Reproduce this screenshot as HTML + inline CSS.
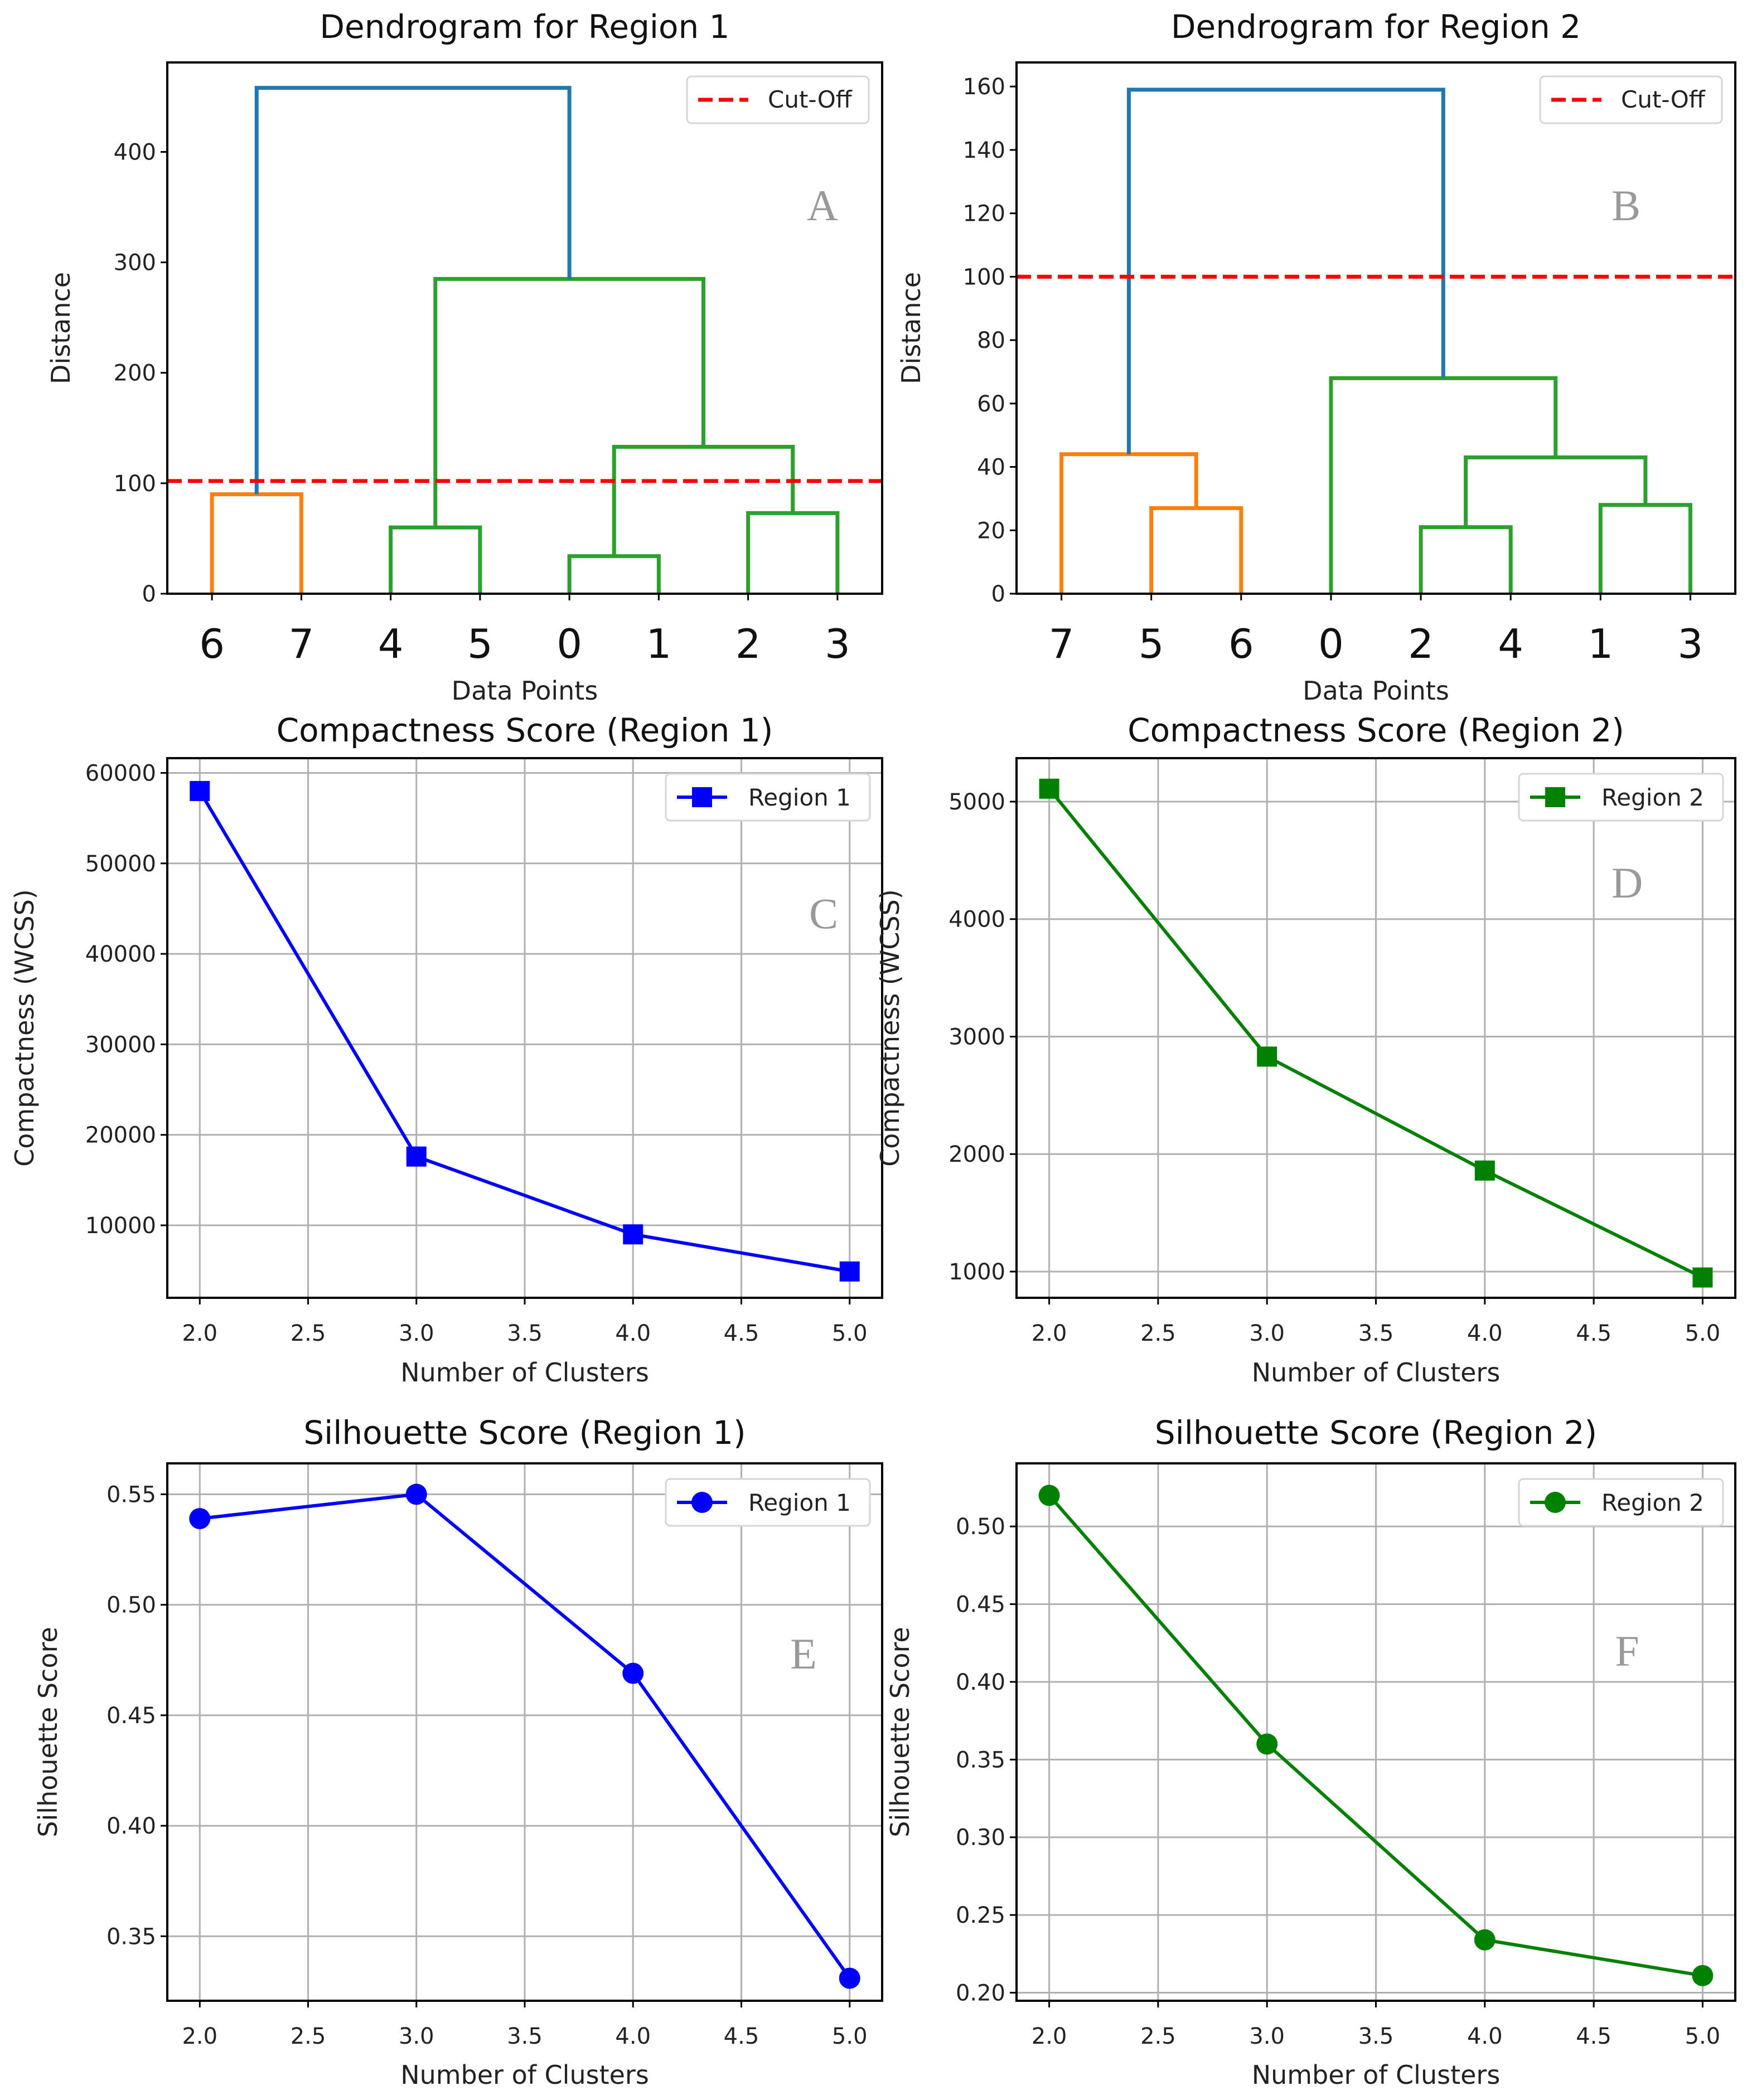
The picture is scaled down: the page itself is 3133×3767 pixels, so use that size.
<!DOCTYPE html>
<html><head><meta charset="utf-8"><style>
html,body{margin:0;padding:0;background:#fff}
svg{display:block;font-family:"DejaVu Sans","Liberation Sans",sans-serif}
</style></head><body>
<svg id="fig" width="3133" height="3767" viewBox="0 0 3133 3767" xmlns="http://www.w3.org/2000/svg"></svg>
<script>
// ---- Data ----
const dendroALeaves = ["6","7","4","5","0","1","2","3"];
const dendroALeftX = [5,25,45,65,50,30,10];
const dendroARightX = [15,35,55,75,70,60,45];
const dendroALeftY = [0,0,0,0,34,60,90];
const dendroARightY = [0,0,0,0,73,133,285];
const dendroATop = [90,60,34,73,133,285,458];
const dendroAColor = ["#ff7f0e","#2ca02c","#2ca02c","#2ca02c","#2ca02c","#2ca02c","#1f77b4"];
const dendroATicks = [0,100,200,300,400];
const cutoffA = 102;

const dendroBLeaves = ["7","5","6","0","2","4","1","3"];
const dendroBLeftX = [15,5,45,65,50,35,12.5];
const dendroBRightX = [25,20,55,75,70,60,47.5];
const dendroBLeftY = [0,0,0,0,21,0,44];
const dendroBRightY = [0,27,0,0,28,43,68];
const dendroBTop = [27,44,21,28,43,68,159];
const dendroBColor = ["#ff7f0e","#ff7f0e","#2ca02c","#2ca02c","#2ca02c","#2ca02c","#1f77b4"];
const dendroBTicks = [0,20,40,60,80,100,120,140,160];
const cutoffB = 100;

const clusters = [2,3,4,5];
const xTicks = [2.0,2.5,3.0,3.5,4.0,4.5,5.0];
const wcss1 = [58000,17600,9000,4900];
const wcss2 = [5110,2830,1860,950];
const sil1 = [0.539,0.550,0.469,0.331];
const sil2 = [0.520,0.360,0.234,0.211];
const wcss1Ticks = [10000,20000,30000,40000,50000,60000];
const wcss2Ticks = [1000,2000,3000,4000,5000];
const sil1Ticks = [0.35,0.40,0.45,0.50,0.55];
const sil2Ticks = [0.20,0.25,0.30,0.35,0.40,0.45,0.50];

const NS="http://www.w3.org/2000/svg";
const fig=document.getElementById('fig');
function mk(tag,attrs,parent){const e=document.createElementNS(NS,tag);for(const k in attrs)e.setAttribute(k,attrs[k]);(parent||fig).appendChild(e);return e;}
function txt(s,attrs,parent){const e=mk('text',attrs,parent);e.textContent=s;return e;}

function axesFrame(g,x0,x1,y0,y1){
  const r=mk('rect',{x:x0,y:y0,width:x1-x0,height:y1-y0,fill:'none',stroke:'#000','stroke-width':4},g);
  
  
}
function yTicksDraw(g,ticks,sy,x0,x1,fmt,grid){
  ticks.forEach(t=>{
    const y=sy(t);
    if(grid){const gl=mk('line',{x1:x0,x2:x1,y1:y,y2:y,stroke:'#b0b0b0','stroke-width':3},g);
      
      }
    const tk=mk('line',{x1:x0-12,x2:x0,y1:y,y2:y,stroke:'#000','stroke-width':3},g);
    
    
    const l=txt(fmt(t),{x:x0-20,y:y+14,'text-anchor':'end','font-size':40,fill:'#222'},g);
    
    
  });
}
function title(g,s,cx,y){const t=txt(s,{x:cx,y:y,'text-anchor':'middle','font-size':58,fill:'#111'},g);
  
  }
function xlabel(g,s,cx,y){const t=txt(s,{x:cx,y:y,'text-anchor':'middle','font-size':46,fill:'#222'},g);
  
  }
function ylabel(g,s,x,cy){const t=txt(s,{x:x,y:cy,'text-anchor':'middle','font-size':46,fill:'#222',transform:`rotate(-90 ${x} ${cy})`},g);
  
  }
function letter(g,s,x,y){const t=txt(s,{x:x,y:y,'text-anchor':'middle','font-size':78,fill:'#999','font-family':'"Liberation Serif",serif'},g);
  
  }

function dendro(name,x0,x1,y0,y1,ymax,leaves,LX,RX,LY,RY,TOP,COL,ticks,cut,ttl,lx,let_,letX,letY){
  const g=mk('g',{});
  
  
  const sx=v=>x0+(v/80)*(x1-x0);
  const sy=v=>y1-(v/ymax)*(y1-y0);
  for(let i=0;i<TOP.length;i++){
    const p=mk('polyline',{points:`${sx(LX[i])},${sy(LY[i])} ${sx(LX[i])},${sy(TOP[i])} ${sx(RX[i])},${sy(TOP[i])} ${sx(RX[i])},${sy(RY[i])}`,fill:'none',stroke:COL[i],'stroke-width':7},g);
    
    
  }
  const c=mk('line',{x1:x0,x2:x1,y1:sy(cut),y2:sy(cut),stroke:'#ff0000','stroke-width':7,'stroke-dasharray':'26 11'},g);
  
  
  axesFrame(g,x0,x1,y0,y1);
  yTicksDraw(g,ticks,sy,x0,x1,t=>String(t),false);
  leaves.forEach((s,i)=>{
    const x=sx(5+10*i);
    const tk=mk('line',{x1:x,x2:x,y1:y1,y2:y1+12,stroke:'#000','stroke-width':3},g);
    
    
    const l=txt(s,{x:x,y:y1+115,'text-anchor':'middle','font-size':72,fill:'#111'},g);
    
    
  });
  title(g,ttl,(x0+x1)/2,68);
  xlabel(g,'Data Points',(x0+x1)/2,1255);
  ylabel(g,'Distance',lx,(y0+y1)/2);
  letter(g,let_,letX,letY);
  const lg=mk('g',{},g);
  
  
  const lxx=x1-350;
  mk('rect',{x:lxx,y:y0+25,width:326,height:84,rx:8,fill:'#fff',stroke:'#d6d6d6','stroke-width':3},lg);
  const ll=mk('line',{x1:lxx+20,x2:lxx+110,y1:y0+67,y2:y0+67,stroke:'#ff0000','stroke-width':7,'stroke-dasharray':'26 11'},lg);
  
  
  const lt=txt('Cut-Off',{x:lxx+145,y:y0+81,'font-size':42,fill:'#222'},lg);
  
  
}

function linePlot(name,x0,x1,y0,y1,ymin,ymax,vals,ticks,fmt,color,marker,ttl,titleY,xlY,xlabY,yl,ylx,lbl,let_,letX,letY){
  const g=mk('g',{});
  
  
  const sx=v=>x0+((v-1.85)/3.3)*(x1-x0);
  const sy=v=>y1-((v-ymin)/(ymax-ymin))*(y1-y0);
  xTicks.forEach(t=>{
    const x=sx(t);
    const gl=mk('line',{x1:x,x2:x,y1:y0,y2:y1,stroke:'#b0b0b0','stroke-width':3},g);
    
    
    const tk=mk('line',{x1:x,x2:x,y1:y1,y2:y1+12,stroke:'#000','stroke-width':3},g);
    
    
    const l=txt(t.toFixed(1),{x:x,y:xlY,'text-anchor':'middle','font-size':40,fill:'#222'},g);
    
    
  });
  yTicksDraw(g,ticks,sy,x0,x1,fmt,true);
  const pts=clusters.map((c,i)=>`${sx(c)},${sy(vals[i])}`).join(' ');
  const pl=mk('polyline',{points:pts,fill:'none',stroke:color,'stroke-width':6},g);
  
  
  clusters.forEach((c,i)=>{
    let m;
    if(marker==='s') m=mk('rect',{x:sx(c)-18,y:sy(vals[i])-18,width:36,height:36,fill:color},g);
    else m=mk('circle',{cx:sx(c),cy:sy(vals[i]),r:19,fill:color},g);
    
    
  });
  axesFrame(g,x0,x1,y0,y1);
  title(g,ttl,(x0+x1)/2,titleY);
  xlabel(g,'Number of Clusters',(x0+x1)/2,xlabY);
  ylabel(g,yl,ylx,(y0+y1)/2);
  letter(g,let_,letX,letY);
  const lg=mk('g',{},g);
  
  
  const lxx=x1-388;
  mk('rect',{x:lxx,y:y0+28,width:366,height:84,rx:8,fill:'#fff',stroke:'#d6d6d6','stroke-width':3},lg);
  const ll=mk('line',{x1:lxx+20,x2:lxx+110,y1:y0+70,y2:y0+70,stroke:color,'stroke-width':6},lg);
  
  
  let mm;
  if(marker==='s') mm=mk('rect',{x:lxx+47,y:y0+52,width:36,height:36,fill:color},lg);
  else mm=mk('circle',{cx:lxx+65,cy:y0+70,r:19,fill:color},lg);
  
  
  const lt=txt(lbl,{x:lxx+148,y:y0+85,'font-size':42,fill:'#222'},lg);
  
  
}

const C1=[300,1582], C2=[1823,3112];
dendro('dendrogram-region-1',C1[0],C1[1],112,1065,481,dendroALeaves,dendroALeftX,dendroARightX,dendroALeftY,dendroARightY,dendroATop,dendroAColor,dendroATicks,cutoffA,'Dendrogram for Region 1',125,'A',1475,395);
dendro('dendrogram-region-2',C2[0],C2[1],112,1065,167.6,dendroBLeaves,dendroBLeftX,dendroBRightX,dendroBLeftY,dendroBRightY,dendroBTop,dendroBColor,dendroBTicks,cutoffB,'Dendrogram for Region 2',1650,'B',2916,395);

linePlot('compactness-region-1',C1[0],C1[1],1360,2328,1990,61630,wcss1,wcss1Ticks,t=>String(t),'#0000ff','s','Compactness Score (Region 1)',1330,2405,2478,'Compactness (WCSS)',60,'Region 1','C',1477,1665);
linePlot('compactness-region-2',C2[0],C2[1],1360,2328,777,5370,wcss2,wcss2Ticks,t=>String(t),'#008000','s','Compactness Score (Region 2)',1330,2405,2478,'Compactness (WCSS)',1612,'Region 2','D',2918,1610);
linePlot('silhouette-region-1',C1[0],C1[1],2625,3589,0.3208,0.564,sil1,sil1Ticks,t=>t.toFixed(2),'#0000ff','o','Silhouette Score (Region 1)',2590,3666,3738,'Silhouette Score',102,'Region 1','E',1441,2993);
linePlot('silhouette-region-2',C2[0],C2[1],2625,3589,0.1948,0.5406,sil2,sil2Ticks,t=>t.toFixed(2),'#008000','o','Silhouette Score (Region 2)',2590,3666,3738,'Silhouette Score',1630,'Region 2','F',2918,2988);
</script>
</body></html>
